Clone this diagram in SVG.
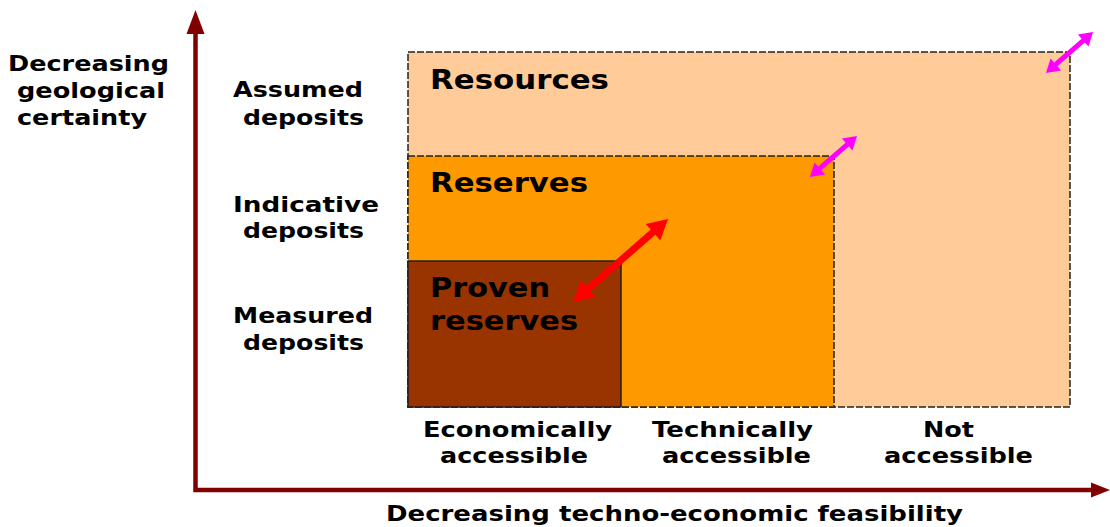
<svg xmlns="http://www.w3.org/2000/svg" width="1110" height="527" viewBox="0 0 1110 527">
  <style>
    text { font-family: "DejaVu Sans", Verdana, sans-serif; font-weight: bold; fill: #000; }
    .lbl { font-size: 21px; }
    .box-title { font-size: 26px; }
    .zone { stroke: #222; stroke-width: 1.5; stroke-dasharray: 7 2; }
    .axis { fill: none; stroke: #800000; stroke-width: 4.5; stroke-linejoin: miter; }
    .axis-head { fill: #800000; }
  </style>
  <defs>
    <!-- short magenta double arrow, drawn along +x from 0 to 62.4 -->
    <path id="dbl-small" d="M0,0 L13,-8 L13,-2.5 L49.4,-2.5 L49.4,-8 L62.4,0 L49.4,8 L49.4,2.5 L13,2.5 L13,8 Z" fill="#FF00FF"/>
  </defs>

  <rect width="1110" height="527" fill="#FFFFFF"/>

  <!-- nested classification zones -->
  <g id="resources">
    <rect class="zone" x="408" y="52" width="662" height="355" fill="#FFCC99"/>
    <text class="box-title" x="430" y="89" textLength="179" lengthAdjust="spacingAndGlyphs">Resources</text>
  </g>
  <g id="reserves">
    <rect class="zone" x="408" y="156" width="426" height="251" fill="#FF9900"/>
    <text class="box-title" x="430" y="192" textLength="158" lengthAdjust="spacingAndGlyphs">Reserves</text>
  </g>
  <g id="proven-reserves">
    <rect x="408" y="261" width="213" height="146" fill="#993300" stroke="#222" stroke-width="1.5"/>
    <text class="box-title" x="430" y="297" textLength="120" lengthAdjust="spacingAndGlyphs">Proven</text>
    <text class="box-title" x="430" y="330" textLength="148" lengthAdjust="spacingAndGlyphs">reserves</text>
  </g>

  <!-- axes and boundary-shift arrows -->
  <g id="connectors">
    <polyline class="axis" points="195.5,30 195.5,490 1093,490"/>
    <polygon class="axis-head" points="195.5,10 186.5,34 204.5,34"/>
    <polygon class="axis-head" points="1110,490 1091,482.5 1091,497.5"/>
    <path d="M0,0 L20,-11 L20,-3.5 L106.2,-3.5 L106.2,-11 L126.2,0 L106.2,11 L106.2,3.5 L20,3.5 L20,11 Z" fill="#FF0000" transform="translate(573,302) rotate(-41.1)"/>
    <use href="#dbl-small" transform="translate(810,177) rotate(-41.1)"/>
    <use href="#dbl-small" transform="translate(1046,73) rotate(-41.1)"/>
  </g>

  <!-- vertical axis title -->
  <g id="y-axis-title">
    <text class="lbl" x="8" y="71" textLength="161" lengthAdjust="spacingAndGlyphs">Decreasing</text>
    <text class="lbl" x="17" y="98" textLength="148" lengthAdjust="spacingAndGlyphs">geological</text>
    <text class="lbl" x="17" y="125" textLength="130" lengthAdjust="spacingAndGlyphs">certainty</text>
  </g>

  <!-- certainty levels -->
  <g id="assumed-deposits">
    <text class="lbl" x="233" y="97" textLength="130" lengthAdjust="spacingAndGlyphs">Assumed</text>
    <text class="lbl" x="243" y="125" textLength="121" lengthAdjust="spacingAndGlyphs">deposits</text>
  </g>
  <g id="indicative-deposits">
    <text class="lbl" x="233" y="212" textLength="146" lengthAdjust="spacingAndGlyphs">Indicative</text>
    <text class="lbl" x="243" y="238" textLength="121" lengthAdjust="spacingAndGlyphs">deposits</text>
  </g>
  <g id="measured-deposits">
    <text class="lbl" x="233" y="323" textLength="140" lengthAdjust="spacingAndGlyphs">Measured</text>
    <text class="lbl" x="243" y="350" textLength="121" lengthAdjust="spacingAndGlyphs">deposits</text>
  </g>

  <!-- accessibility levels -->
  <g id="economically-accessible">
    <text class="lbl" x="423" y="437" textLength="189" lengthAdjust="spacingAndGlyphs">Economically</text>
    <text class="lbl" x="440" y="463" textLength="148" lengthAdjust="spacingAndGlyphs">accessible</text>
  </g>
  <g id="technically-accessible">
    <text class="lbl" x="652" y="437" textLength="161" lengthAdjust="spacingAndGlyphs">Technically</text>
    <text class="lbl" x="662" y="463" textLength="149" lengthAdjust="spacingAndGlyphs">accessible</text>
  </g>
  <g id="not-accessible">
    <text class="lbl" x="923" y="437" textLength="51" lengthAdjust="spacingAndGlyphs">Not</text>
    <text class="lbl" x="884" y="463" textLength="149" lengthAdjust="spacingAndGlyphs">accessible</text>
  </g>

  <!-- horizontal axis title -->
  <g id="x-axis-title">
    <text class="lbl" x="386" y="521" textLength="577" lengthAdjust="spacingAndGlyphs">Decreasing techno-economic feasibility</text>
  </g>
</svg>
